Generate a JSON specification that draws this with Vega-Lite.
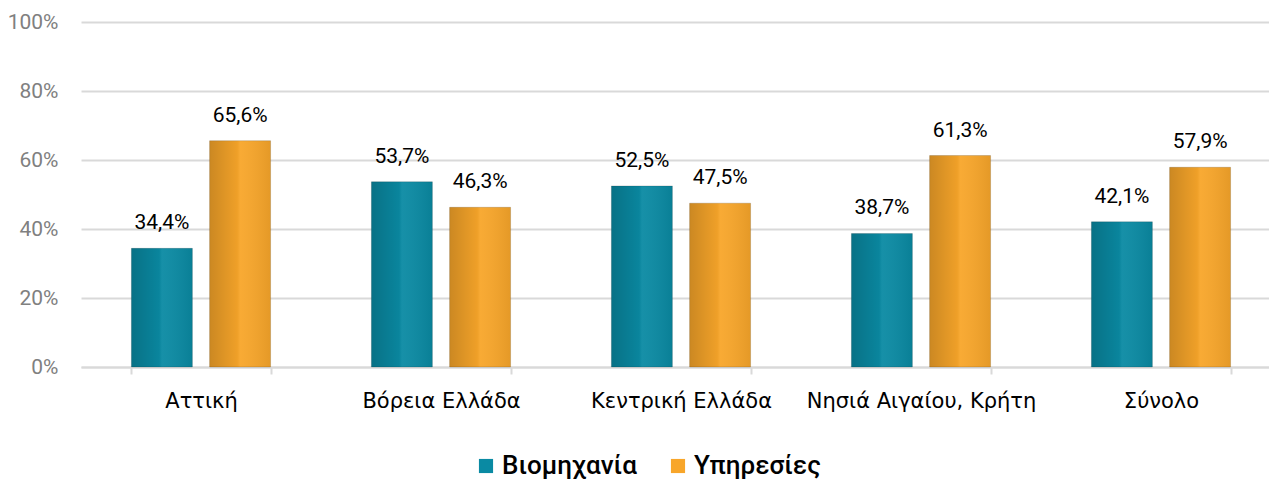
{
  "$schema": "https://vega.github.io/schema/vega-lite/v6.json",
  "width": 1200,
  "height": 345,
  "autosize": {"type": "none"},
  "padding": {"left": 81, "top": 22, "right": -12, "bottom": 114},
  "background": "white",
  "config": {
    "locale": {"number": {"decimal": ",", "thousands": ".", "grouping": [3], "currency": ["", " €"]}},
    "view": {"stroke": null},
    "font": "Roboto"
  },
  "data": {
    "values": [
      {"region": "Αττική", "sector": "Βιομηχανία", "value": 0.344},
      {"region": "Αττική", "sector": "Υπηρεσίες", "value": 0.656},
      {"region": "Βόρεια Ελλάδα", "sector": "Βιομηχανία", "value": 0.537},
      {"region": "Βόρεια Ελλάδα", "sector": "Υπηρεσίες", "value": 0.463},
      {"region": "Κεντρική Ελλάδα", "sector": "Βιομηχανία", "value": 0.525},
      {"region": "Κεντρική Ελλάδα", "sector": "Υπηρεσίες", "value": 0.475},
      {"region": "Νησιά Αιγαίου, Κρήτη", "sector": "Βιομηχανία", "value": 0.387},
      {"region": "Νησιά Αιγαίου, Κρήτη", "sector": "Υπηρεσίες", "value": 0.613},
      {"region": "Σύνολο", "sector": "Βιομηχανία", "value": 0.421},
      {"region": "Σύνολο", "sector": "Υπηρεσίες", "value": 0.579}
    ]
  },
  "encoding": {
    "x": {
      "field": "region", "type": "nominal", "sort": null,
      "scale": {"paddingInner": 0.42, "paddingOuter": 0.21},
      "axis": {
        "title": null, "labelAngle": 0, "labelFont": "DejaVu Sans", "labelFontSize": 21,
        "labelLimit": 400, "labelColor": "#000000", "labelPadding": 16, "domainColor": "#d9d9d9",
        "domainWidth": 2, "tickColor": "#d9d9d9", "tickWidth": 2, "tickSize": 7, "tickBand": "extent"
      }
    },
    "xOffset": {"field": "sector", "type": "nominal", "scale": {"paddingInner": 0.22}},
    "y": {
      "field": "value", "type": "quantitative",
      "scale": {"domain": [0, 1]},
      "axis": {
        "title": null, "format": ".0%", "values": [0, 0.2, 0.4, 0.6, 0.8, 1],
        "domain": false, "ticks": false, "labelPadding": 23, "labelFontSize": 21,
        "labelColor": "#808080", "gridColor": "#d9d9d9", "gridWidth": 2
      }
    }
  },
  "layer": [
    {
      "mark": {"type": "bar"},
      "encoding": {
        "color": {
          "field": "sector", "type": "nominal",
          "scale": {"domain": ["Βιομηχανία", "Υπηρεσίες"], "range": ["#0a8aa3", "#f8a62a"]},
          "legend": {
            "title": null, "orient": "none", "direction": "horizontal",
            "legendX": 392, "legendY": 431,
            "symbolType": "square", "symbolSize": 200, "symbolStrokeWidth": 0,
            "labelFontSize": 26, "labelFontWeight": 500, "labelColor": "#000000",
            "labelOffset": 3, "columnPadding": 28
          }
        }
      }
    },
    {
      "mark": {
        "type": "bar",
        "fill": {
          "gradient": "linear", "x1": 0, "y1": 0, "x2": 1, "y2": 0,
          "stops": [
            {"offset": 0, "color": "rgba(0,0,0,0.18)"},
            {"offset": 0.45, "color": "rgba(0,0,0,0.04)"},
            {"offset": 0.5, "color": "rgba(255,255,255,0.05)"},
            {"offset": 1, "color": "rgba(0,0,0,0.08)"}
          ]
        },
        "stroke": "rgba(0,0,0,0.15)",
        "strokeWidth": 1
      },
      "encoding": {}
    },
    {
      "mark": {"type": "text", "baseline": "bottom", "dy": -15, "fontSize": 21, "color": "#000000"},
      "encoding": {
        "text": {"field": "value", "type": "quantitative", "format": ".1%"}
      }
    }
  ]
}
